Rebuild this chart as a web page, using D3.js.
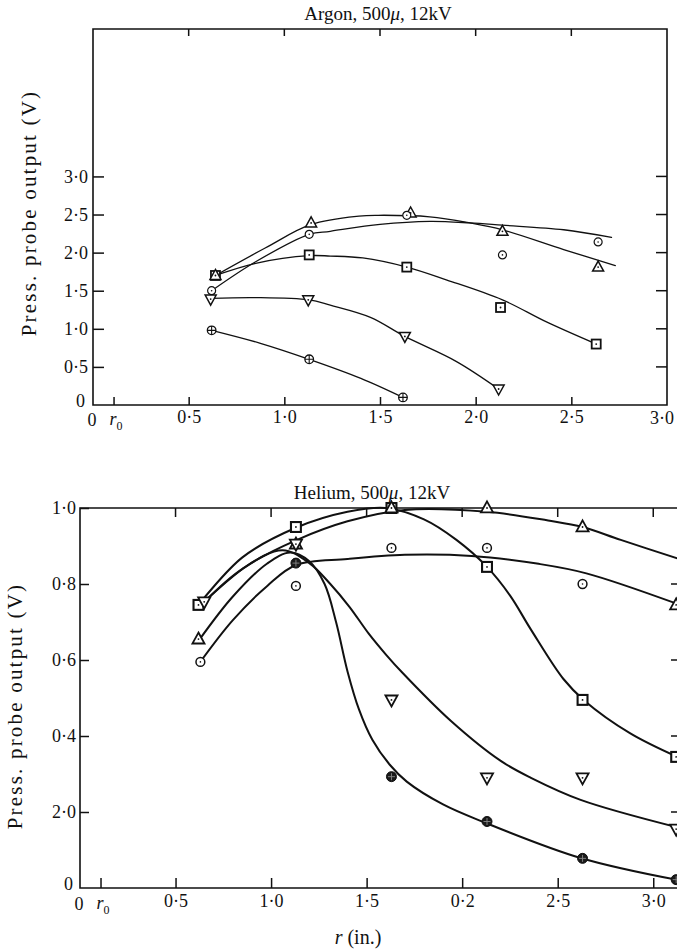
<!DOCTYPE html>
<html><head><meta charset="utf-8">
<script src="https://cdn.jsdelivr.net/npm/d3@7"></script>
<style>
body{margin:0;background:#fff}
svg{display:block}
svg text{font-family:"Liberation Serif","DejaVu Serif",serif !important;fill:#111}
</style>
</head><body>
<svg id="c" width="677" height="952" font-family="Liberation Serif, DejaVu Serif, serif"></svg>
<script>
// ---------------- DATA ----------------
// Argon panel: measured markers [r, V]
const argonTri    = [[0.64,1.70],[1.14,2.39],[1.66,2.52],[2.14,2.28],[2.64,1.81]];
const argonCirc   = [[0.62,1.50],[1.13,2.24],[1.64,2.49],[2.14,1.97],[2.64,2.14]];
const argonSq     = [[0.64,1.70],[1.13,1.97],[1.64,1.81],[2.13,1.28],[2.63,0.80]];
const argonInv    = [[0.615,1.39],[1.125,1.38],[1.63,0.90],[2.12,0.21]];
const argonCross  = [[0.62,0.98],[1.13,0.60],[1.62,0.10]];
// Argon panel: hand-drawn fitted curves
const argonTriCurve   = [[0.64,1.70],[0.90,2.06],[1.14,2.37],[1.39,2.48],[1.49,2.49],[1.76,2.47],[1.97,2.39],[2.14,2.30],[2.46,2.04],[2.73,1.83]];
const argonCircCurve  = [[0.62,1.50],[0.85,1.88],[1.13,2.24],[1.24,2.28],[1.50,2.37],[1.76,2.41],[1.97,2.39],[2.14,2.36],[2.46,2.30],[2.71,2.20]];
const argonSqCurve    = [[0.64,1.70],[0.85,1.86],[1.13,1.96],[1.24,1.955],[1.41,1.93],[1.64,1.81],[1.85,1.64],[2.14,1.38],[2.37,1.09],[2.63,0.80]];
const argonInvCurve   = [[0.615,1.40],[0.85,1.41],[1.13,1.38],[1.24,1.31],[1.45,1.15],[1.63,0.90],[1.90,0.57],[2.12,0.21]];
const argonCrossCurve = [[0.62,0.98],[0.875,0.81],[1.13,0.60],[1.40,0.35],[1.62,0.10]];

// Helium panel: measured markers
const heliumSq     = [[0.62,0.745],[1.13,0.95],[1.63,1.0],[2.13,0.845],[2.63,0.495],[3.12,0.345]];
const heliumTri    = [[0.62,0.655],[1.13,0.905],[1.63,1.0],[2.13,1.0],[2.63,0.95],[3.12,0.745]];
const heliumInv    = [[0.65,0.753],[1.13,0.905],[1.63,0.495],[2.13,0.29],[2.63,0.29],[3.12,0.155]];
const heliumCirc   = [[0.63,0.595],[1.13,0.795],[1.63,0.895],[2.13,0.895],[2.63,0.80]];
const heliumFilled = [[1.13,0.855],[1.63,0.293],[2.13,0.175],[2.63,0.078],[3.12,0.022]];
// Helium panel: fitted curves
const heliumFlatCurve  = [[0.628,0.594],[0.80,0.705],[0.98,0.795],[1.13,0.85],[1.40,0.866],[1.70,0.877],[2.05,0.874],[2.40,0.853],[2.65,0.828],[3.14,0.745]];
const heliumTopCurve   = [[0.65,0.753],[0.88,0.85],[1.13,0.915],[1.40,0.965],[1.70,0.995],[2.13,0.99],[2.45,0.967],[2.63,0.95],[2.83,0.916],[3.14,0.865]];
const heliumSqCurve    = [[0.62,0.745],[0.85,0.87],[1.13,0.948],[1.40,0.99],[1.60,1.0],[1.80,0.97],[1.97,0.916],[2.13,0.845],[2.25,0.77],[2.36,0.68],[2.53,0.55],[2.64,0.493],[2.88,0.407],[3.14,0.342]];
const heliumInvCurve   = [[0.65,0.753],[0.85,0.84],[1.06,0.889],[1.20,0.855],[1.31,0.80],[1.41,0.74],[1.51,0.67],[1.60,0.615],[1.69,0.565],[1.94,0.44],[2.20,0.335],[2.36,0.29],[2.62,0.232],[3.14,0.158]];
const heliumDropCurve  = [[0.62,0.65],[0.80,0.767],[0.98,0.854],[1.10,0.883],[1.20,0.86],[1.28,0.80],[1.34,0.70],[1.40,0.57],[1.46,0.47],[1.53,0.39],[1.62,0.325],[1.71,0.28],[1.90,0.22],[2.11,0.174],[2.62,0.079],[3.14,0.02]];

// Tick values and labels
const argonYTicks   = [0,0.5,1.0,1.5,2.0,2.5,3.0];
const argonYLabels  = ["0","0·5","1·0","1·5","2·0","2·5","3·0"];
const argonXTicks   = [0.5,1.0,1.5,2.0,2.5];
const argonXLabels  = ["0·5","1·0","1·5","2·0","2·5"];
const heliumYTicks  = [0,0.2,0.4,0.6,0.8,1.0];
const heliumYLabels = ["0","2·0","0·4","0·6","0·8","1·0"];
const heliumXTicks  = [0.5,1.0,1.5,2.0,2.5,3.0];
const heliumXLabels = ["0·5","1·0","1·5","0·2","2·5","3·0"];
const r0 = 0.11;

// ---------------- DRAW ----------------
const svg = d3.select("#c");
const FS = 18;
const SERIF = "Liberation Serif, DejaVu Serif, serif";

function marker(g, type, cx, cy, big) {
  const s = big ? 1.1 : 1.0;
  const sw = big ? 1.8 : 1.5;
  const m = g.append("g").attr("transform", `translate(${cx},${cy})`);
  if (type === "tri") {
    const h = 10*s, w = 11*s;
    m.append("path").attr("d", `M0,${-h*0.6}L${w/2},${h*0.4}L${-w/2},${h*0.4}Z`)
      .attr("fill","#fff").attr("stroke","#111").attr("stroke-width",sw);
    m.append("circle").attr("r",0.9).attr("fill","#111");
  } else if (type === "inv") {
    const h = 10*s, w = 11*s;
    m.append("path").attr("d", `M0,${h*0.6}L${w/2},${-h*0.4}L${-w/2},${-h*0.4}Z`)
      .attr("fill","#fff").attr("stroke","#111").attr("stroke-width",sw);
    m.append("circle").attr("r",0.9).attr("fill","#111");
  } else if (type === "sq") {
    const a = 9*s;
    m.append("rect").attr("x",-a/2).attr("y",-a/2).attr("width",a).attr("height",a)
      .attr("fill","#fff").attr("stroke","#111").attr("stroke-width",sw+0.3);
    m.append("circle").attr("r",0.9).attr("fill","#111");
  } else if (type === "circ") {
    m.append("circle").attr("r",4*s).attr("fill","#fff").attr("stroke","#111").attr("stroke-width",sw-0.3);
    m.append("circle").attr("r",0.8).attr("fill","#111");
  } else if (type === "cross") {
    const r = 4.3*s;
    m.append("circle").attr("r",r).attr("fill","#fff").attr("stroke","#111").attr("stroke-width",sw-0.2);
    m.append("path").attr("d",`M${-r},0H${r}M0,${-r}V${r}`).attr("stroke","#111").attr("stroke-width",1.1);
  } else if (type === "filled") {
    const r = 5;
    m.append("circle").attr("r",r).attr("fill","#1a1a1a").attr("stroke","#111").attr("stroke-width",1);
    m.append("path").attr("d",`M${-r+1.5},0H${r-1.5}M0,${-r+1.5}V${r-1.5}`).attr("stroke","#888").attr("stroke-width",0.9);
  }
}

function panel(cfg) {
  const g = svg.append("g").attr("font-family", SERIF);
  const x = d3.scaleLinear().domain(cfg.xDomain).range([cfg.left, cfg.right]);
  const y = d3.scaleLinear().domain(cfg.yDomain).range([cfg.bottom, cfg.top]);
  const line = d3.line().x(d => x(d[0])).y(d => y(d[1])).curve(d3.curveCatmullRom.alpha(0.5));

  // curves
  cfg.curves.forEach(c => {
    g.append("path").datum(c).attr("d", line).attr("fill","none")
      .attr("stroke","#111").attr("stroke-width",cfg.lw).attr("stroke-linecap","round");
  });

  // frame
  g.append("path")
    .attr("d", `M${cfg.left},${cfg.top}H${cfg.right}V${cfg.bottom}H${cfg.left}Z`)
    .attr("fill","none").attr("stroke","#111").attr("stroke-width",1.6);

  // bottom axis
  const xa = g.append("g").attr("transform",`translate(0,${cfg.bottom})`)
    .call(d3.axisBottom(x).tickValues(cfg.xTicks).tickSize(-cfg.tick).tickPadding(cfg.xPad)
      .tickFormat((d,i) => cfg.xLabels[i]));
  xa.attr("font-family", SERIF);
  xa.select(".domain").remove();
  xa.selectAll("line").attr("stroke","#111").attr("stroke-width",1.5);
  xa.selectAll("text").attr("font-size",FS).attr("fill","#111").attr("font-family",SERIF);
  if (cfg.endLabel) {
    g.append("text").attr("x",cfg.endLabel[0]).attr("y",cfg.bottom+cfg.xPad+14)
      .attr("text-anchor","middle").attr("font-size",FS).text(cfg.endLabel[1]);
  }
  // r0 tick
  g.append("line").attr("x1",x(r0)).attr("x2",x(r0)).attr("y1",cfg.bottom).attr("y2",cfg.bottom-cfg.tick)
    .attr("stroke","#111").attr("stroke-width",1.5);
  const rt = g.append("text").attr("x",x(r0)+2).attr("y",cfg.bottom+cfg.xPad+15).attr("text-anchor","middle")
    .attr("font-size",FS);
  rt.append("tspan").attr("font-style","italic").text("r");
  rt.append("tspan").attr("font-size",12).attr("dy",5).text("0");
  g.append("text").attr("x",x(0)-1).attr("y",cfg.bottom+cfg.xPad+16).attr("text-anchor","middle")
    .attr("font-size",FS).text("0");

  // top ticks
  cfg.topTicks.forEach(v => g.append("line").attr("x1",x(v)).attr("x2",x(v))
    .attr("y1",cfg.top).attr("y2",cfg.top+cfg.tick-1).attr("stroke","#111").attr("stroke-width",1.5));

  // left axis
  const ya = g.append("g").attr("transform",`translate(${cfg.left},0)`)
    .call(d3.axisLeft(y).tickValues(cfg.yTicks).tickSize(-cfg.ytick).tickPadding(cfg.yPad)
      .tickFormat((d,i) => cfg.yLabels[i]));
  ya.attr("font-family", SERIF);
  ya.select(".domain").remove();
  ya.selectAll("line").attr("stroke","#111").attr("stroke-width",1.5);
  const zeroTick = ya.selectAll(".tick").filter(d => d === 0);
  zeroTick.select("line").remove();
  zeroTick.select("text").attr("dy","0.1em").attr("x",-cfg.yPad-3);
  ya.selectAll("text").attr("font-size",FS).attr("fill","#111").attr("font-family",SERIF);

  // right ticks
  cfg.rightTicks.forEach(v => g.append("line").attr("x1",cfg.right).attr("x2",cfg.right-cfg.ytick)
    .attr("y1",y(v)).attr("y2",y(v)).attr("stroke","#111").attr("stroke-width",1.5));

  // markers
  cfg.markers.forEach(([type, arr]) => arr.forEach(d => marker(g, type, x(d[0]), y(d[1]), cfg.big)));

  // title
  const t = g.append("text").attr("x",cfg.titleX).attr("y",cfg.titleY).attr("text-anchor","middle").attr("font-size",19);
  t.append("tspan").text(cfg.titleA + ", 500");
  t.append("tspan").attr("font-style","italic").text("μ");
  t.append("tspan").text(", 12kV");

  // y label
  g.append("text").attr("transform",`translate(${cfg.yLabX},${cfg.yLabY}) rotate(-90)`)
    .attr("text-anchor","middle").attr("font-size",21).attr("letter-spacing",2.2)
    .text("Press. probe output (V)");
  return {x, y};
}

panel({
  left:93, right:667, top:29, bottom:405,
  xDomain:[0,3.0], yDomain:[0,4.935],
  xTicks:argonXTicks, xLabels:argonXLabels, endLabel:[662,"3·0"],
  yTicks:argonYTicks, yLabels:argonYLabels,
  topTicks:[0.5,1.0,1.5,2.0,2.5], rightTicks:[0.5,1.0,1.5,2.0,2.5,3.0],
  tick:8, ytick:11, xPad:5, yPad:5, lw:1.3, big:false,
  curves:[argonTriCurve, argonCircCurve, argonSqCurve, argonInvCurve, argonCrossCurve],
  markers:[["sq",argonSq],["tri",argonTri],["circ",argonCirc],["inv",argonInv],["cross",argonCross]],
  titleA:"Argon", titleX:378, titleY:20, yLabX:36, yLabY:213
});

panel({
  left:80, right:680, top:508, bottom:888,
  xDomain:[0,3.14], yDomain:[0,1.0],
  xTicks:heliumXTicks, xLabels:heliumXLabels,
  yTicks:heliumYTicks, yLabels:heliumYLabels,
  topTicks:[0.5,1.0,1.5,2.0,2.5,3.0], rightTicks:[0.2,0.4,0.6,0.8],
  tick:10, ytick:9, xPad:6, yPad:4, lw:2, big:true,
  curves:[heliumFlatCurve, heliumTopCurve, heliumSqCurve, heliumInvCurve, heliumDropCurve],
  markers:[["sq",heliumSq],["tri",heliumTri],["inv",heliumInv],["circ",heliumCirc],["filled",heliumFilled]],
  titleA:"Helium", titleX:372, titleY:499, yLabX:22, yLabY:706
});

// x-axis title
const xt = svg.append("text").attr("x",358).attr("y",944).attr("text-anchor","middle").attr("font-size",20)
  .attr("font-family", SERIF);
xt.append("tspan").attr("font-style","italic").text("r");
xt.append("tspan").text(" (in.)");
</script>
</body></html>
